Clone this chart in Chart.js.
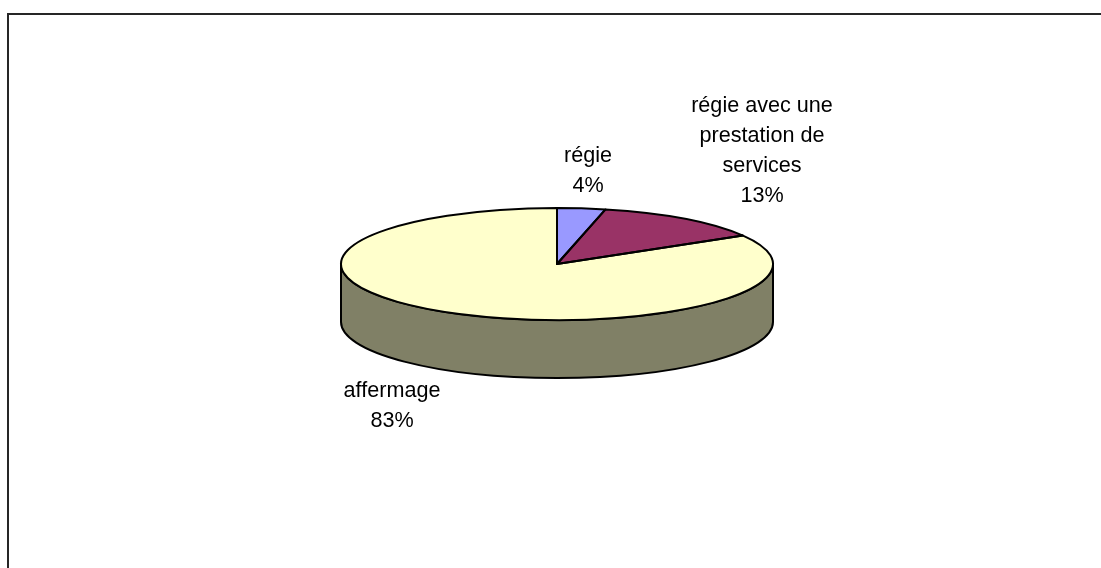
<!DOCTYPE html>
<html>
<head>
<meta charset="utf-8">
<style>html,body{margin:0;padding:0;background:#fff;overflow:hidden}canvas{display:block}</style>
<script src="https://cdn.jsdelivr.net/npm/chart.js@4/dist/chart.umd.min.js"></script>
</head>
<body>
<canvas id="c" width="1101" height="568"></canvas>
<script>
const categories = [["régie"], ["régie avec une", "prestation de", "services"], ["affermage"]];
const shares = [3.6, 12.9, 83.4];
const sliceColors = ["#9999FF", "#993366", "#FFFFCC"];
const wallColors = ["#4C4C80", "#4C1933", "#808066"];

// Layout (pie geometry and label anchors relative to the pie centre)
const SQUASH = 56 / 216, DEPTH = 58, OUTLINE = 2;
const labelAnchors = [{dx: 31, dy: -102}, {dx: 205, dy: -152}, {dx: -165, dy: 133}];
const LINE_H = 30, FONT = '21.6px "Liberation Sans", Arial, sans-serif';

const pie3d = {
  id: 'pie3d',
  beforeDraw(chart) {
    const c = chart.ctx;
    c.save();
    c.fillStyle = '#fff';
    c.fillRect(0, 0, chart.width, chart.height);
    c.strokeStyle = '#262626';
    c.lineWidth = 2;
    c.strokeRect(8, 14, chart.width + 50, chart.height + 50);
    c.restore();
  },
  beforeDatasetsDraw(chart) {
    const c = chart.ctx;
    const arcs = chart.getDatasetMeta(0).data;
    const cx = arcs[0].x, cy = arcs[0].y, rx = arcs[0].outerRadius, ry = rx * SQUASH;
    // side wall, only the front half of the ellipse is visible
    c.save();
    c.lineWidth = OUTLINE;
    c.strokeStyle = '#000';
    c.lineJoin = 'round';
    arcs.forEach((a, i) => {
      const s = Math.max(a.startAngle, 0), e = Math.min(a.endAngle, Math.PI);
      if (e <= s) return;
      c.beginPath();
      c.ellipse(cx, cy, rx, ry, 0, s, e);
      c.ellipse(cx, cy + DEPTH, rx, ry, 0, e, s, true);
      c.closePath();
      c.fillStyle = wallColors[i];
      c.fill();
      c.stroke();
    });
    c.restore();
    // squash the library's own pie drawing into an ellipse
    c.save();
    c.translate(cx, cy);
    c.scale(1, SQUASH);
    c.translate(-cx, -cy);
  },
  afterDatasetsDraw(chart) {
    const c = chart.ctx;
    c.restore();
    const arcs = chart.getDatasetMeta(0).data;
    const cx = arcs[0].x, cy = arcs[0].y, rx = arcs[0].outerRadius, ry = rx * SQUASH;
    c.save();
    c.lineWidth = OUTLINE;
    c.strokeStyle = '#000';
    c.lineJoin = 'round';
    arcs.forEach(a => {
      c.beginPath();
      c.moveTo(cx, cy);
      c.ellipse(cx, cy, rx, ry, 0, a.startAngle, a.endAngle);
      c.closePath();
      c.stroke();
    });
    c.fillStyle = '#000';
    c.font = FONT;
    c.textAlign = 'center';
    c.textBaseline = 'alphabetic';
    categories.forEach((lines, i) => {
      const all = lines.concat(Math.round(shares[i]) + '%');
      const p = labelAnchors[i];
      all.forEach((t, k) => c.fillText(t, cx + p.dx, cy + p.dy + k * LINE_H));
    });
    c.restore();
  }
};

new Chart(document.getElementById('c'), {
  type: 'pie',
  data: {
    labels: categories.map(l => l.join(' ')),
    datasets: [{ data: shares, backgroundColor: sliceColors, borderWidth: 0 }]
  },
  options: {
    responsive: false,
    animation: false,
    layout: { padding: { left: 341, right: 328, top: 48, bottom: 88 } },
    plugins: { legend: { display: false }, tooltip: { enabled: false } }
  },
  plugins: [pie3d]
});
</script>
</body>
</html>
